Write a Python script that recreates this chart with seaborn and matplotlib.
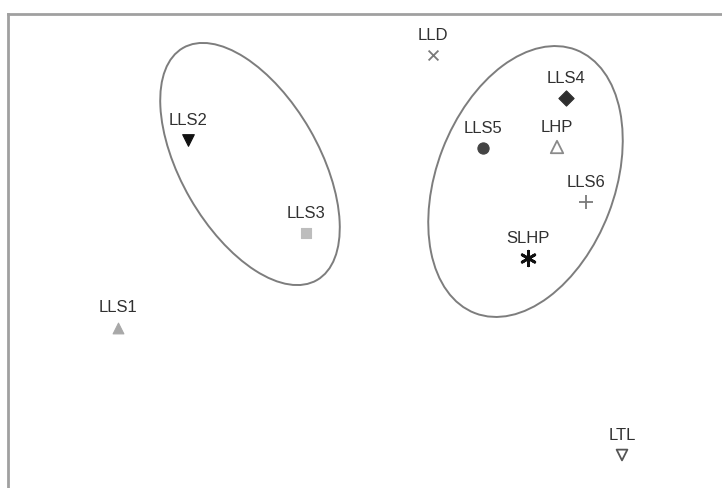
import matplotlib
matplotlib.use("Agg")
import matplotlib.pyplot as plt
from matplotlib.patches import Ellipse
import seaborn as sns
import pandas as pd

# Perceptual map coordinates of each product (dimension 1, dimension 2)
names = ["LLD", "LLS2", "LLS3", "LLS1", "LLS4", "LLS5", "LHP", "LLS6", "SLHP", "LTL"]
dim1 = [433, 188, 306, 118, 566, 483, 557, 586, 528, 622]
dim2 = [433, 348, 255, 160, 390, 340, 341, 286, 230, 33]
markers = ["x", "v", "s", "^", "D", "o", "^", "+", (6, 2, 0), "v"]
colors = ["#7a7a7a", "#111111", "#bdbdbd", "#a8a8a8", "#2e2e2e", "#444444",
          "#8a8a8a", "#7a7a7a", "#111111", "#555555"]
filled = [True, True, True, True, True, True, False, True, True, False]
sizes = [50, 70, 50, 60, 60, 65, 80, 100, 110, 60]

# Cluster ellipses: centre x, centre y, width, height, angle
clusters = [(250, 324, 138, 268, 30), (525.5, 306.5, 178, 282, -21)]

df = pd.DataFrame({"name": names, "dim1": dim1, "dim2": dim2})

sns.set_style("white")
plt.rcParams["font.family"] = ["Liberation Sans", "DejaVu Sans"]

fig = plt.figure(figsize=(7.22, 4.88), dpi=100)
ax = fig.add_axes([8 / 722, -7 / 488, 1.0, 481 / 488])

for (cx, cy, w, h, ang) in clusters:
    ax.add_patch(Ellipse((cx, cy), w, h, angle=ang, fill=False,
                         edgecolor="#7d7d7d", linewidth=1.4))

for i, row in df.iterrows():
    sub = df.iloc[[i]]
    m = markers[i]
    if m in ("x", "+"):
        sns.scatterplot(data=sub, x="dim1", y="dim2", marker=m, s=sizes[i],
                        color=colors[i], linewidth=1.3, ax=ax, legend=False)
    elif m == (6, 2, 0):
        sns.scatterplot(data=sub, x="dim1", y="dim2", marker=m, s=sizes[i],
                        color=colors[i], linewidth=2.0, ax=ax, legend=False)
    elif filled[i]:
        sns.scatterplot(data=sub, x="dim1", y="dim2", marker=m, s=sizes[i],
                        color=colors[i], edgecolor=colors[i], linewidth=0.8,
                        ax=ax, legend=False)
    else:
        sns.scatterplot(data=sub, x="dim1", y="dim2", marker=m, s=sizes[i],
                        facecolor="none", edgecolor=colors[i], linewidth=1.3,
                        ax=ax, legend=False)
    ax.text(row["dim1"], row["dim2"] + 20, row["name"], ha="center",
            va="center", fontsize=12, color="#303030")

ax.set_xlim(8, 730)
ax.set_ylim(-7, 474)
ax.set_xticks([])
ax.set_yticks([])
ax.set_xlabel("")
ax.set_ylabel("")
for side in ["top", "left", "right", "bottom"]:
    ax.spines[side].set_color("#a0a0a0")
    ax.spines[side].set_linewidth(2)

fig.savefig("out.png", dpi=100)
